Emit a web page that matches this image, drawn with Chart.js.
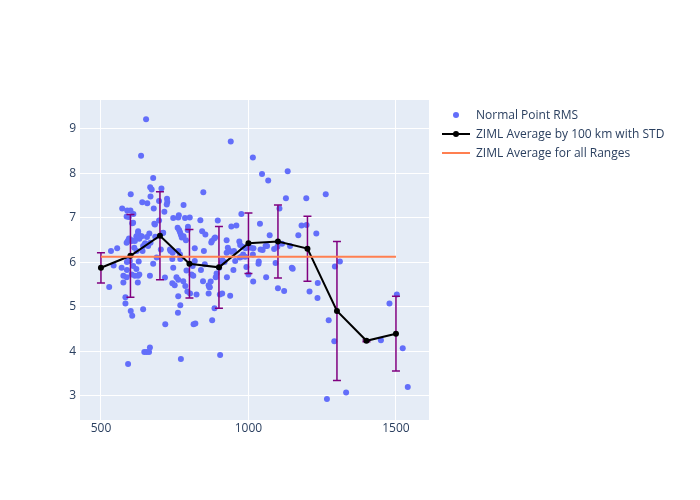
<!DOCTYPE html>
<html>
<head>
<meta charset="utf-8">
<script src="https://cdn.jsdelivr.net/npm/chart.js@4/dist/chart.umd.min.js"></script>
<style>
html,body{margin:0;padding:0;background:#fff;}
#c{display:block;}
</style>
</head>
<body>
<canvas id="c" width="700" height="500"></canvas>
<script>
// ---- data ----
const seriesNames = ["Normal Point RMS", "ZIML Average by 100 km with STD", "ZIML Average for all Ranges"];

const pointRange = [
653,636,940,1015,1046,1067,1133,1262,1196,1127,847,677,667,672,705,601,668,572,589,600,610,640,657,697,724,725,723,780,679,587,594,606,715,745,764,762,785,801,760,765,768,771,774,681,697,664,626,620,635,631,595,591,605,656,710,650,795,794,788,780,837,843,854,896,887,876,926,942,959,976,1039,1105,1072,1169,1180,1197,1230,930,934,942,951,969,972,980,990,989,971,1008,1017,1041,1058,1087,1114,1035,1034,993,1015,1092,1060,1016,1100,1121,1147,1150,1235,1207,1234,1310,1293,1272,1291,1266,1331,1449,1478,1503,1523,1540,
528,534,555,543,570,576,576,588,587,588,592,583,583,601,606,592,604,615,625,630,628,613,621,641,643,643,666,677,689,684,718,647,655,663,666,703,717,736,742,745,742,750,762,769,756,762,762,769,761,771,779,786,793,802,814,820,790,807,813,818,818,824,839,849,846,852,865,867,865,872,874,884,877,885,903,911,904,889,892,901,909,912,927,938,949,955,
982,976,1098,1141,811,926,919,1000,1048,609,626,638,630,587,604,615,649,660,668,711,683,734,743,768,598,609,620,626,1063,869
];
const pointRms = [
9.22,8.40,8.72,8.36,7.99,7.84,8.05,7.53,7.44,7.44,7.58,7.90,7.69,7.64,7.66,7.53,7.48,7.21,7.17,7.17,7.09,7.35,7.33,7.38,7.43,7.36,7.30,7.29,7.21,7.03,7.02,6.88,7.14,7.00,7.06,7.01,7.00,7.01,6.78,6.73,6.68,6.62,6.56,6.87,6.94,6.65,6.70,6.59,6.59,6.56,6.54,6.48,6.50,6.57,6.66,6.43,6.80,6.73,6.50,6.59,6.95,6.70,6.63,6.94,6.56,6.48,6.50,6.81,6.83,7.09,6.87,7.21,6.61,6.61,6.83,6.84,6.65,6.33,6.27,6.24,6.26,6.47,6.39,6.35,6.32,6.13,6.11,6.33,6.32,6.29,6.37,6.30,6.42,6.02,5.97,5.90,6.18,5.99,5.67,5.57,5.42,5.36,5.88,5.86,5.54,5.35,5.20,6.02,5.91,4.70,4.23,2.93,3.08,4.25,5.08,5.28,4.07,3.20,
5.45,6.26,6.32,5.93,5.88,5.70,5.55,5.83,5.67,6.01,6.05,5.22,5.08,4.91,4.80,3.72,5.73,5.70,5.55,5.73,6.02,6.33,6.26,6.26,6.37,4.95,5.70,5.97,6.11,6.58,4.61,3.99,3.99,3.99,4.09,6.29,5.66,6.26,6.08,5.88,5.53,5.49,6.26,6.08,5.67,5.61,5.24,5.04,4.87,3.83,5.58,5.47,5.35,5.30,4.61,4.63,5.82,5.73,5.70,6.03,6.32,5.28,5.83,6.26,5.58,5.96,5.49,5.45,5.30,5.57,6.45,6.54,4.70,4.97,5.28,5.30,3.92,5.67,5.75,5.88,6.00,6.05,5.67,5.25,5.83,6.03,
6.18,6.13,6.35,6.37,5.92,6.22,6.01,5.73,6.28,6.89,6.67,6.59,6.53,6.44,6.48,6.48,6.41,6.37,6.44,6.67,6.85,6.29,6.22,6.18,6.03,5.92,5.85,5.70,6.37,5.44
];

const avgRange = [500,600,700,800,900,1000,1100,1200,1300,1400,1500];
const avgRms   = [5.88,6.15,6.60,5.97,5.89,6.43,6.47,6.31,4.91,4.24,4.40];
const avgStd   = [0.34,0.93,0.99,0.77,0.92,0.68,0.82,0.73,1.56,0.02,0.84];

const overallRange = [500,1500];
const overallRms = 6.13;

const xTicks = [500,1000,1500];
const yTicks = [3,4,5,6,7,8,9];

// ---- styles ----
const FONT = "'Open Sans', 'Noto Sans', sans-serif";
const TXT = '#2a3f5f';
const BLUE = '#636efa';
const PURPLE = '#800080';
const CORAL = '#ff7f50';

const scatterData = pointRange.map((x,i)=>({x:x,y:pointRms[i]}));
const avgData = avgRange.map((x,i)=>({x:x,y:avgRms[i]}));
const overallData = overallRange.map(x=>({x:x,y:overallRms}));

const bgPlugin = {
  id:'bg',
  beforeDraw(chart){
    const {ctx, chartArea:a} = chart;
    ctx.save();
    ctx.fillStyle = '#E5ECF6';
    ctx.fillRect(a.left, a.top, a.right-a.left, a.bottom-a.top);
    ctx.restore();
  }
};

const errPlugin = {
  id:'errbars',
  afterDatasetDraw(chart, args){
    if (args.index !== 0) return;
    const ctx = chart.ctx, xs = chart.scales.x, ys = chart.scales.y;
    ctx.save();
    ctx.strokeStyle = PURPLE;
    ctx.lineWidth = 1.5;
    avgRange.forEach((r,i)=>{
      const px = xs.getPixelForValue(r);
      const top = ys.getPixelForValue(avgRms[i]+avgStd[i]);
      const bot = ys.getPixelForValue(avgRms[i]-avgStd[i]);
      ctx.beginPath();
      ctx.moveTo(px, top); ctx.lineTo(px, bot);
      ctx.moveTo(px-4, top); ctx.lineTo(px+4, top);
      ctx.moveTo(px-4, bot); ctx.lineTo(px+4, bot);
      ctx.stroke();
    });
    ctx.restore();
  }
};

const legendPlugin = {
  id:'customLegend',
  afterDraw(chart){
    const ctx = chart.ctx;
    const x0 = 442, x1 = 470, tx = 476;
    const ys = [115, 134, 153];
    ctx.save();
    ctx.font = '12px ' + FONT;
    ctx.textBaseline = 'middle';
    ctx.textAlign = 'left';
    ctx.beginPath(); ctx.fillStyle = BLUE; ctx.arc((x0+x1)/2, ys[0], 3, 0, Math.PI*2); ctx.fill();
    ctx.strokeStyle = '#000'; ctx.lineWidth = 2;
    ctx.beginPath(); ctx.moveTo(x0, ys[1]); ctx.lineTo(x1, ys[1]); ctx.stroke();
    ctx.beginPath(); ctx.fillStyle = '#000'; ctx.arc((x0+x1)/2, ys[1], 3, 0, Math.PI*2); ctx.fill();
    ctx.strokeStyle = CORAL; ctx.lineWidth = 2;
    ctx.beginPath(); ctx.moveTo(x0, ys[2]); ctx.lineTo(x1, ys[2]); ctx.stroke();
    ctx.fillStyle = TXT;
    seriesNames.forEach((n,i)=>ctx.fillText(n, tx, ys[i]+1));
    ctx.restore();
  }
};

new Chart(document.getElementById('c'), {
  type:'scatter',
  data:{
    datasets:[
      {label:seriesNames[0], data:scatterData, backgroundColor:BLUE, borderColor:BLUE, pointRadius:3, pointHoverRadius:3, pointBorderWidth:0, order:3},
      {label:seriesNames[1], data:avgData, showLine:true, borderColor:'#000', backgroundColor:'#000', borderWidth:2, pointRadius:3, pointHoverRadius:3, pointBorderWidth:0, order:2},
      {label:seriesNames[2], data:overallData, showLine:true, borderColor:CORAL, backgroundColor:CORAL, borderWidth:2, pointRadius:0, order:1}
    ]
  },
  options:{
    responsive:false,
    animation:false,
    events:[],
    layout:{padding:{left:0, top:100, right:271, bottom:0}},
    plugins:{legend:{display:false}, tooltip:{enabled:false}},
    scales:{
      x:{
        type:'linear', min:429, max:1612,
        afterBuildTicks(s){ s.ticks = xTicks.map(v=>({value:v})); },
        afterFit(s){ s.height = 80; },
        grid:{color:'#ffffff', lineWidth:1, drawTicks:false},
        border:{display:false},
        ticks:{color:TXT, font:{family:FONT, size:12}, padding:1, maxRotation:0, callback:(v)=>String(v)}
      },
      y:{
        type:'linear', min:2.46, max:9.65,
        afterBuildTicks(s){ s.ticks = yTicks.map(v=>({value:v})); },
        afterFit(s){ s.width = 80; },
        grid:{color:'#ffffff', lineWidth:1, drawTicks:false},
        border:{display:false},
        ticks:{color:TXT, font:{family:FONT, size:12}, padding:4, callback:(v)=>String(v)}
      }
    }
  },
  plugins:[bgPlugin, errPlugin, legendPlugin]
});
</script>
</body>
</html>
